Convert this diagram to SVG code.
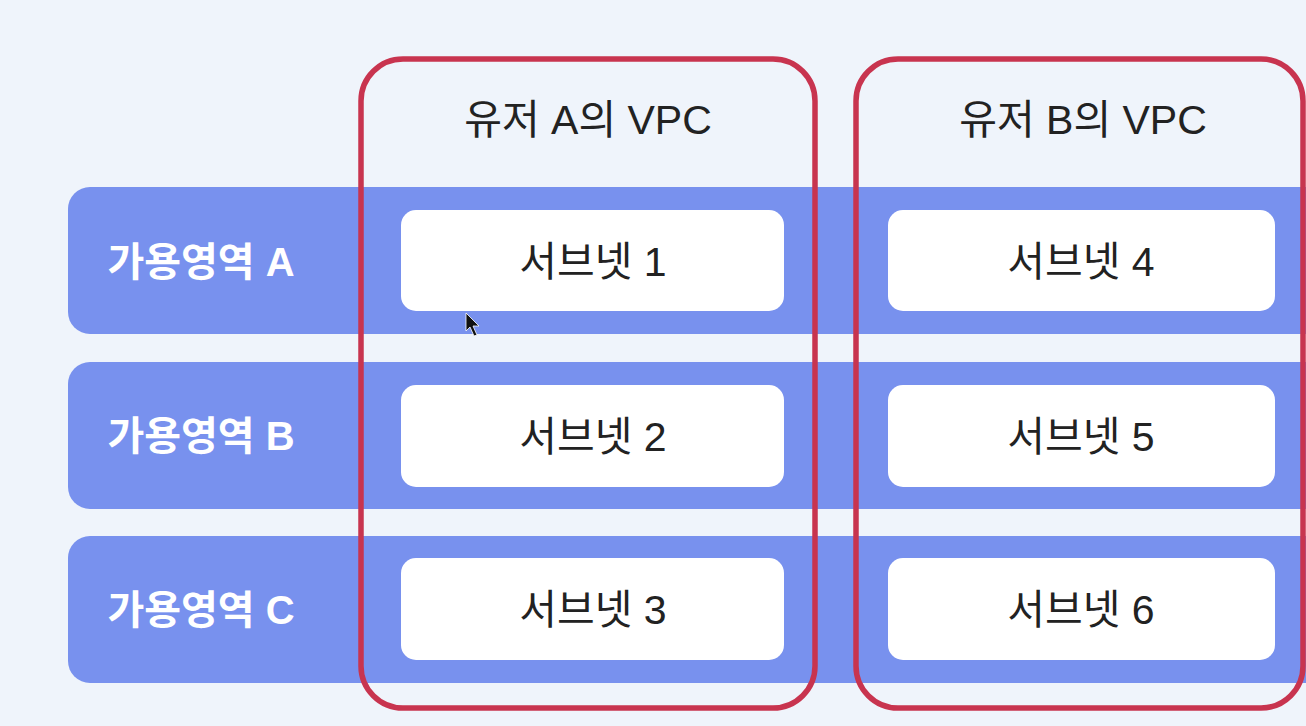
<svg xmlns="http://www.w3.org/2000/svg" width="1306" height="726" viewBox="0 0 1306 726">
<style>
.band{fill:#7891EE;}
.sub{fill:#FFFFFF;}
.vpc{fill:none;stroke:#C8344F;stroke-width:5.5;}
.bl{font-family:"Liberation Sans","Noto Sans CJK KR",sans-serif;font-weight:bold;font-size:40px;fill:#FFFFFF;text-anchor:middle;}
.sl{font-family:"Liberation Sans","Noto Sans CJK KR",sans-serif;font-size:41px;fill:#222222;text-anchor:middle;}
.vl{font-family:"Liberation Sans","Noto Sans CJK KR",sans-serif;font-size:41px;fill:#222222;text-anchor:middle;}
</style>
<rect width="1306" height="726" fill="#EFF4FB"/>
<g id="az-a"><rect class="band" x="68" y="187" width="1270" height="147" rx="22"/><text class="bl" x="201" y="276">가용영역 A</text></g>
<g id="az-b"><rect class="band" x="68" y="362" width="1270" height="147" rx="22"/><text class="bl" x="201" y="450">가용영역 B</text></g>
<g id="az-c"><rect class="band" x="68" y="536" width="1270" height="147" rx="22"/><text class="bl" x="201" y="624">가용영역 C</text></g>
<g id="subnet-1"><rect class="sub" x="401" y="210" width="383" height="101" rx="15"/><text class="sl" x="593" y="276">서브넷 1</text></g>
<g id="subnet-2"><rect class="sub" x="401" y="385" width="383" height="102" rx="15"/><text class="sl" x="593" y="451">서브넷 2</text></g>
<g id="subnet-3"><rect class="sub" x="401" y="558" width="383" height="102" rx="15"/><text class="sl" x="593" y="624">서브넷 3</text></g>
<g id="subnet-4"><rect class="sub" x="888" y="210" width="387" height="101" rx="15"/><text class="sl" x="1081" y="276">서브넷 4</text></g>
<g id="subnet-5"><rect class="sub" x="888" y="385" width="387" height="102" rx="15"/><text class="sl" x="1081" y="451">서브넷 5</text></g>
<g id="subnet-6"><rect class="sub" x="888" y="558" width="387" height="102" rx="15"/><text class="sl" x="1081" y="624">서브넷 6</text></g>
<g id="vpc-a"><rect class="vpc" x="361" y="59" width="454" height="649" rx="42"/><text class="vl" x="588" y="134">유저 A의 VPC</text></g>
<g id="vpc-b"><rect class="vpc" x="856" y="59" width="447" height="649" rx="42"/><text class="vl" x="1083" y="134">유저 B의 VPC</text></g>
<g id="connectors"></g>
<path d="M466 313 L466 331 L470 327 L474 336 L477 335 L473 326 L479 326 Z" fill="#111" stroke="#fff" stroke-width="0.8"/>
</svg>
